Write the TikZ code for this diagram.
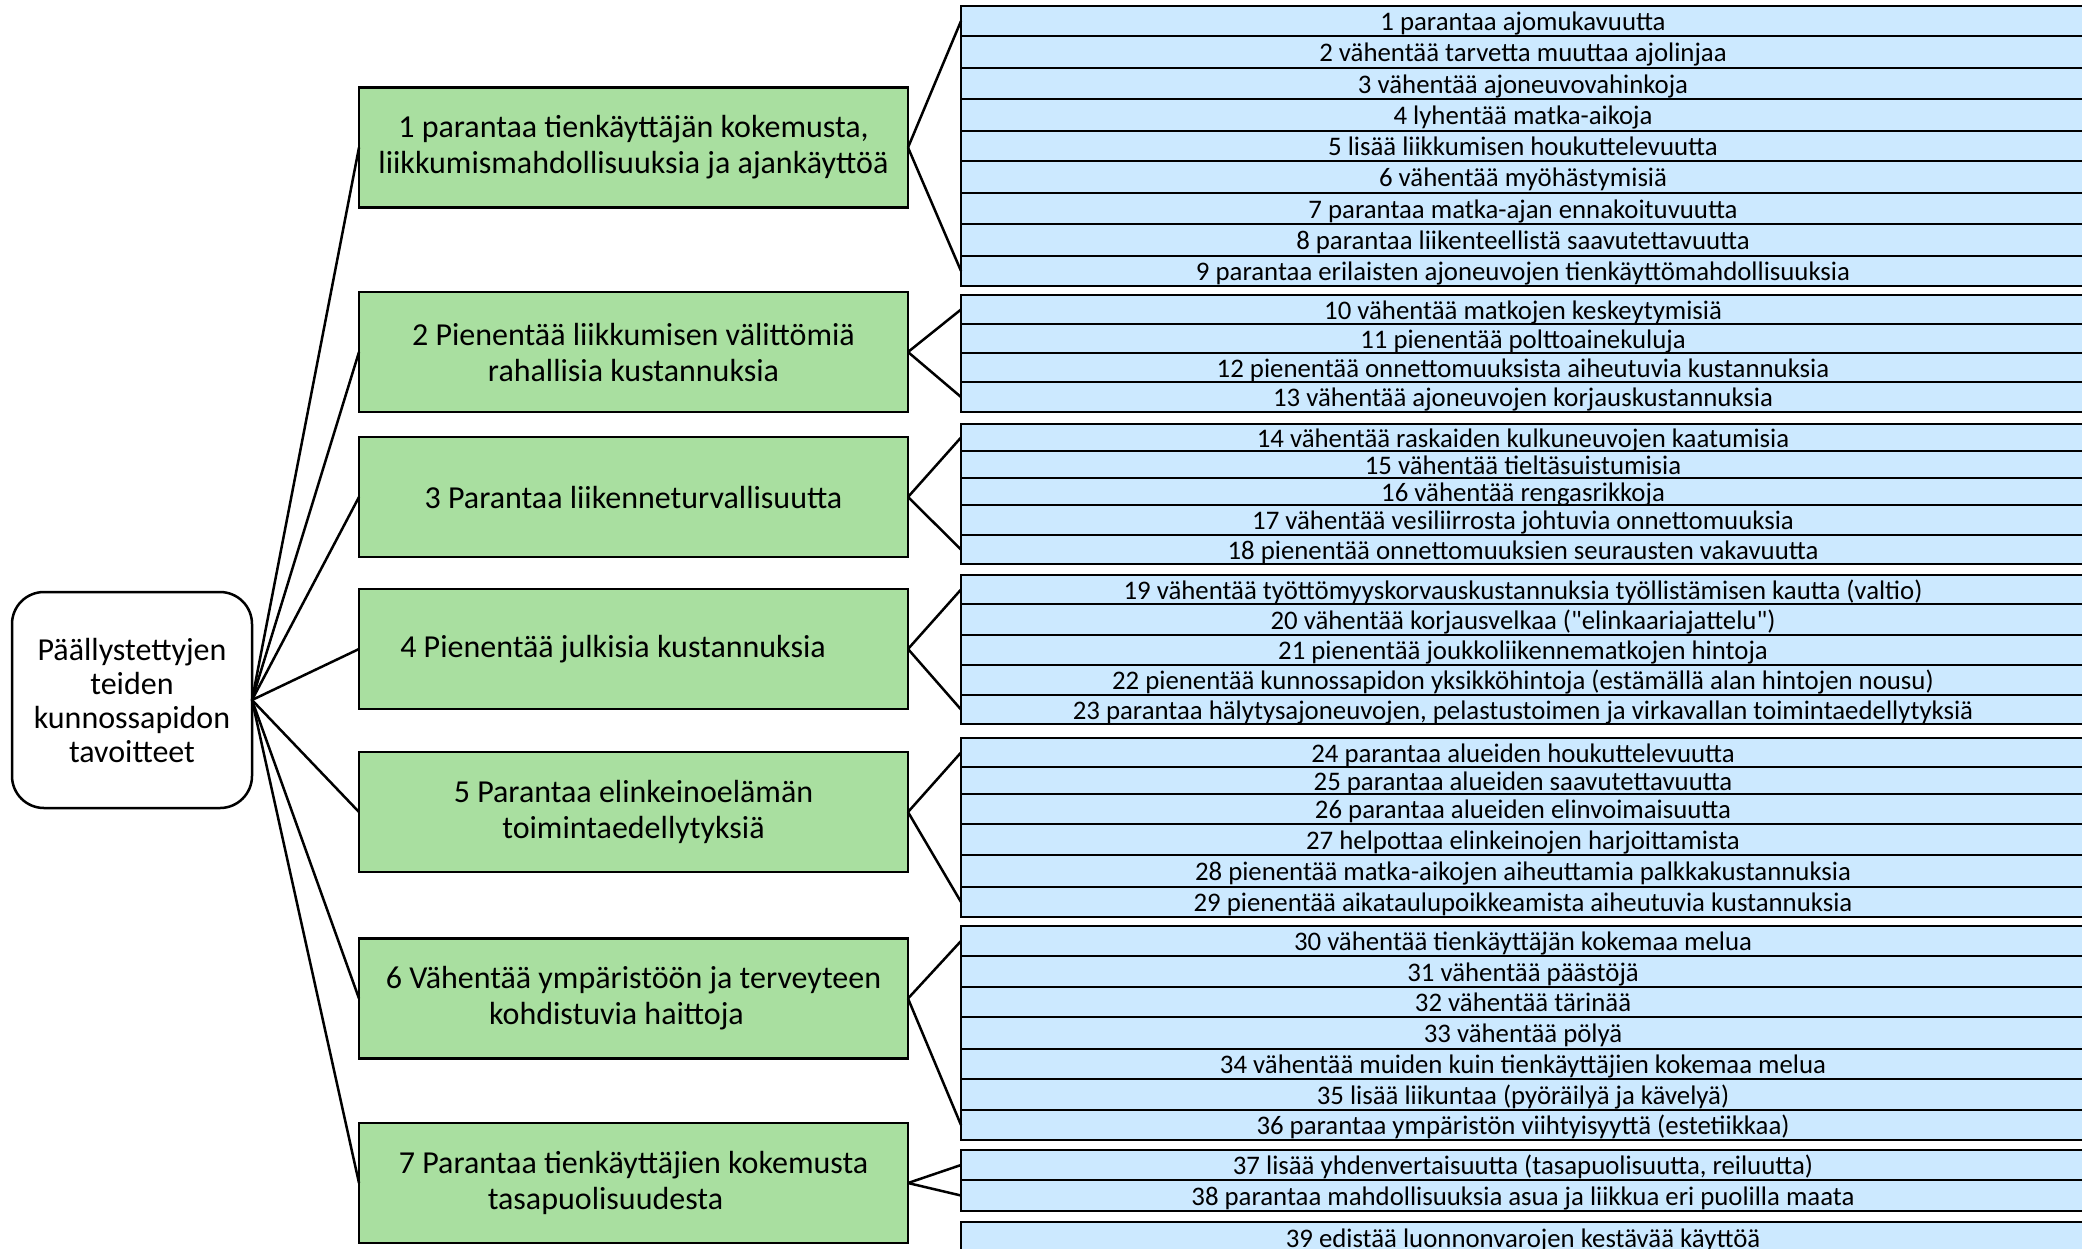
\documentclass[tikz,border=0pt]{standalone}
\usepackage{fontspec}
\setmainfont{Carlito}[Ligatures=TeXOff]
\definecolor{goalgreen}{RGB}{169,223,160}
\definecolor{subblue}{RGB}{204,233,255}
\tikzset{
  rootbox/.style={draw=black, line width=2.5pt, rounded corners=32pt, fill=white,
    minimum width=240pt, minimum height=216pt, align=center, inner sep=0pt, outer sep=0pt,
    font=\fontsize{32}{34}\selectfont},
  goalbox/.style={draw=black, line width=2.5pt, fill=goalgreen,
    minimum width=549pt, minimum height=120pt, align=center, inner sep=0pt, outer sep=0pt,
    font=\fontsize{32}{36}\selectfont},
  subbox/.style={draw=black, line width=2.5pt, fill=subblue, anchor=north west,
    minimum width=1124pt, inner sep=0pt, outer sep=0pt, text height=23pt, text depth=4pt,
    font=\fontsize{26.8}{30}\selectfont},
  link/.style={draw=black, line width=2.5pt},
}
% \subgoal{name}{top}{bottom}{text}
\newcommand\subgoal[4]{\node[subbox, minimum height={#3pt-#2pt}] (#1) at (961,#2) {#4};}
\begin{document}
\begin{tikzpicture}[x=1pt,y=-1pt]
\clip (0,0) rectangle (2082,1248);
\fill[white] (0,0) rectangle (2082,1248);

% root
\node[rootbox] (root) at (132,700) {Päällystettyjen\\teiden\\kunnossapidon\\tavoitteet};

% main goals
\node[goalbox] (g1) at (633.5,147.5) {1 parantaa tienkäyttäjän kokemusta,\\liikkumismahdollisuuksia ja ajankäyttöä};
\node[goalbox] (g2) at (633.5,352) {2 Pienentää liikkumisen välittömiä\\rahallisia kustannuksia};
\node[goalbox] (g3) at (633.5,497) {3 Parantaa liikenneturvallisuutta};
\node[goalbox] (g4) at (633.5,649) {4 Pienentää julkisia kustannuksia\rule{41pt}{0pt}};
\node[goalbox] (g5) at (633.5,812) {5 Parantaa elinkeinoelämän\\toimintaedellytyksiä};
\node[goalbox] (g6) at (633.5,998.5) {6 Vähentää ympäristöön ja terveyteen\\kohdistuvia haittoja\rule{34pt}{0pt}};
\node[goalbox] (g7) at (633.5,1183) {7 Parantaa tienkäyttäjien kokemusta\\tasapuolisuudesta\rule{56pt}{0pt}};

% sub goals
\subgoal{b1}{6}{36}{1 parantaa ajomukavuutta}
\subgoal{b2}{36}{68}{2 vähentää tarvetta muuttaa ajolinjaa}
\subgoal{b3}{68}{99}{3 vähentää ajoneuvovahinkoja}
\subgoal{b4}{99}{131}{4 lyhentää matka-aikoja}
\subgoal{b5}{131}{161}{5 lisää liikkumisen houkuttelevuutta}
\subgoal{b6}{161}{193}{6 vähentää myöhästymisiä}
\subgoal{b7}{193}{224}{7 parantaa matka-ajan ennakoituvuutta}
\subgoal{b8}{224}{256}{8 parantaa liikenteellistä saavutettavuutta}
\subgoal{b9}{256}{286}{9 parantaa erilaisten ajoneuvojen tienkäyttömahdollisuuksia}

\subgoal{b10}{295}{324}{10 vähentää matkojen keskeytymisiä}
\subgoal{b11}{324}{353}{11 pienentää polttoainekuluja}
\subgoal{b12}{353}{382}{12 pienentää onnettomuuksista aiheutuvia kustannuksia}
\subgoal{b13}{382}{412}{13 vähentää ajoneuvojen korjauskustannuksia}

\subgoal{b14}{424}{451}{14 vähentää raskaiden kulkuneuvojen kaatumisia}
\subgoal{b15}{451}{478}{15 vähentää tieltäsuistumisia}
\subgoal{b16}{478}{505}{16 vähentää rengasrikkoja}
\subgoal{b17}{505}{535}{17 vähentää vesiliirrosta johtuvia onnettomuuksia}
\subgoal{b18}{535}{564}{18 pienentää onnettomuuksien seurausten vakavuutta}

\subgoal{b19}{575}{604}{19 vähentää työttömyyskorvauskustannuksia työllistämisen kautta (valtio)}
\subgoal{b20}{604}{635}{20 vähentää korjausvelkaa ("elinkaariajattelu")}
\subgoal{b21}{635}{665}{21 pienentää joukkoliikennematkojen hintoja}
\subgoal{b22}{665}{695}{22 pienentää kunnossapidon yksikköhintoja (estämällä alan hintojen nousu)}
\subgoal{b23}{695}{724}{23 parantaa hälytysajoneuvojen, pelastustoimen ja virkavallan toimintaedellytyksiä}

\subgoal{b24}{738}{767}{24 parantaa alueiden houkuttelevuutta}
\subgoal{b25}{767}{794}{25 parantaa alueiden saavutettavuutta}
\subgoal{b26}{794}{824}{26 parantaa alueiden elinvoimaisuutta}
\subgoal{b27}{824}{855}{27 helpottaa elinkeinojen harjoittamista}
\subgoal{b28}{855}{887}{28 pienentää matka-aikojen aiheuttamia palkkakustannuksia}
\subgoal{b29}{887}{917}{29 pienentää aikataulupoikkeamista aiheutuvia kustannuksia}

\subgoal{b30}{926}{956}{30 vähentää tienkäyttäjän kokemaa melua}
\subgoal{b31}{956}{987}{31 vähentää päästöjä}
\subgoal{b32}{987}{1017}{32 vähentää tärinää}
\subgoal{b33}{1017}{1049}{33 vähentää pölyä}
\subgoal{b34}{1049}{1079}{34 vähentää muiden kuin tienkäyttäjien kokemaa melua}
\subgoal{b35}{1079}{1110}{35 lisää liikuntaa (pyöräilyä ja kävelyä)}
\subgoal{b36}{1110}{1140}{36 parantaa ympäristön viihtyisyyttä (estetiikkaa)}

\subgoal{b37}{1150}{1180}{37 lisää yhdenvertaisuutta (tasapuolisuutta, reiluutta)}
\subgoal{b38}{1180}{1211}{38 parantaa mahdollisuuksia asua ja liikkua eri puolilla maata}

\subgoal{b39}{1222}{1253}{39 edistää luonnonvarojen kestävää käyttöä}

% root to main goals
\foreach \g in {g1,g2,g3,g4,g5,g6,g7}
  \draw[link] (root.east) -- (\g.west);

% main goals to the first and last sub goal of each group
\foreach \g/\a/\b in {g1/b1/b9, g2/b10/b13, g3/b14/b18, g4/b19/b23, g5/b24/b29, g6/b30/b36, g7/b37/b38}{
  \draw[link] (\g.east) -- (\a.west);
  \draw[link] (\g.east) -- (\b.west);
}
\end{tikzpicture}
\end{document}
